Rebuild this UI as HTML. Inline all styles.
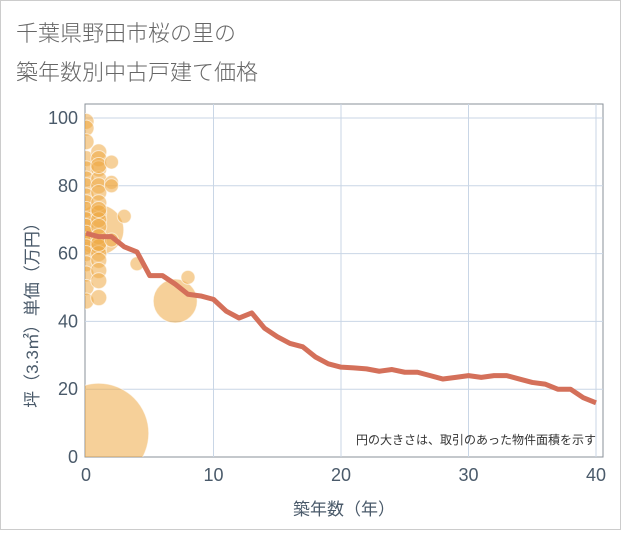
<!DOCTYPE html>
<html><head><meta charset="utf-8"><style>
body{margin:0;background:#fff;font-family:"Liberation Sans","Noto Sans CJK JP",sans-serif}
#wrap{position:relative;width:619px;height:528px;border:1px solid #ccc;background:#fff}
</style></head><body>
<div id="wrap">
<svg id="c" width="619" height="528">
<text x="15" y="40" font-size="22" fill="#666" font-family="'Noto Sans CJK JP',sans-serif" font-weight="300">千葉県野田市桜の里の</text>
<text x="15" y="79" font-size="22" fill="#666" font-family="'Noto Sans CJK JP',sans-serif" font-weight="300">築年数別中古戸建て価格</text>
</svg>
</div>
<script>
const years=[0,1,2,3,4,5,6,7,8,9,10,11,12,13,14,15,16,17,18,19,20,21,22,23,24,25,26,27,28,29,30,31,32,33,34,35,36,37,38,39,40];
const avgPrice=[66,65,65,62,60.5,53.5,53.5,51,48,47.5,46.5,43,41,42.5,38,35.5,33.5,32.5,29.5,27.5,26.5,26.3,26,25.3,25.8,25,25,24,23,23.5,24,23.5,24,24,23,22,21.5,20,20,17.5,16];
const bubbleX=[1,7,1,0,0,0,0,0,0,0,0,0,0,0,0,0,0,0,0,0,0,0,1,1,1,1,1,1,1,1,1,1,1,1,1,1,1,1,1,2,2,2,2,3,4,8,0,1,1,1];
const bubbleY=[7,46,67,99,97,88,85,82,80,77,75,73,70,68,66,64,62,60,57,54,50,46,90,88,85,82,80,78,75,72,70,68,65,62,60,58,55,52,47,87,81,80,64,71,57,53,93,86,73,63];
const bubbleSize=[50,22,25,8,8,8,8,8,8,8,8,8,8,8,8,8,8,8,8,8,8,8,8,8,8,8,8,8,8,8,8,8,8,8,8,8,8,8,8,7,7,7,7,7,7,7,8,8,8,8];
const xTicks=[0,10,20,30,40];
const yTicks=[0,20,40,60,80,100];
const NS="http://www.w3.org/2000/svg";
const svg=document.getElementById('c');
const L=84,R=602,T=103,B=456;
const sx=v=>85+v*12.75;
const sy=v=>456-v*3.39;
function mk(t,a){const e=document.createElementNS(NS,t);for(const k in a)e.setAttribute(k,a[k]);svg.appendChild(e);return e;}
const bg=mk('rect',{x:L,y:T,width:R-L,height:B-T,fill:'#fff',stroke:'#8a9099'});


xTicks.forEach(v=>{if(v>0){const g=mk('line',{x1:sx(v),x2:sx(v),y1:T,y2:B,stroke:'#c9d6e6'});

}
const t=mk('text',{x:sx(v),y:480,'font-size':18,fill:'#4a5a6a','text-anchor':'middle'});t.textContent=v;

});
yTicks.forEach(v=>{if(v>0){const g=mk('line',{x1:L,x2:R,y1:sy(v),y2:sy(v),stroke:'#c9d6e6'});

}
const t=mk('text',{x:77,y:sy(v)+6,'font-size':18,fill:'#4a5a6a','text-anchor':'end'});t.textContent=v;

});
const cp=mk('clipPath',{id:'cl'});const cr=document.createElementNS(NS,'rect');cr.setAttribute('x',L);cr.setAttribute('y',T);cr.setAttribute('width',R-L);cr.setAttribute('height',B-T);cp.appendChild(cr);
const order=bubbleX.map((_,i)=>i).sort((a,b)=>bubbleSize[b]-bubbleSize[a]);
order.forEach(i=>{const c=mk('circle',{cx:sx(bubbleX[i]),cy:sy(bubbleY[i]),r:bubbleSize[i],fill:'rgba(238,170,70,0.55)',stroke:'rgba(255,255,255,0.6)','clip-path':'url(#cl)'});

});
const line=mk('polyline',{points:years.map((y,i)=>sx(y)+','+sy(avgPrice[i])).join(' '),fill:'none',stroke:'#d4705a','stroke-width':5,'stroke-linejoin':'round'});


const note=mk('text',{x:595,y:443,'font-size':12,fill:'#333','text-anchor':'end'});note.textContent='円の大きさは、取引のあった物件面積を示す';


const xt=mk('text',{x:343,y:514,'font-size':17,fill:'#4a5a6a','text-anchor':'middle'});xt.textContent='築年数（年）';


const yt=mk('text',{x:0,y:0,'font-size':17,fill:'#4a5a6a','text-anchor':'middle',transform:'translate(37,310) rotate(-90)'});yt.textContent='坪（3.3㎡）単価（万円）';


</script>
</body></html>
